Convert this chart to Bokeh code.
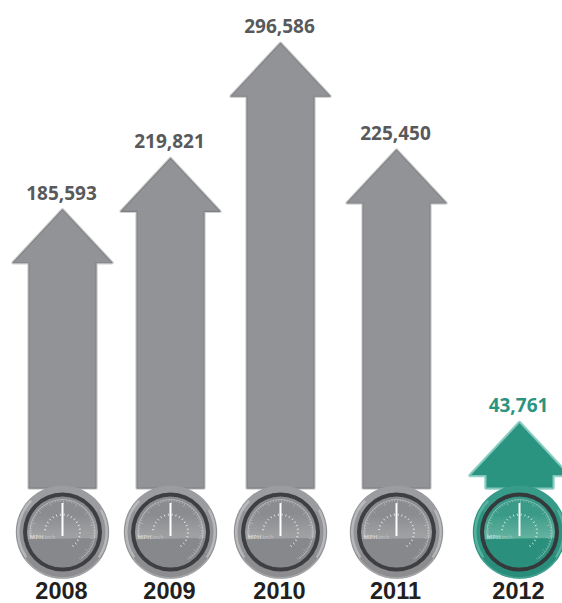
import math
from bokeh.plotting import figure
from bokeh.embed import file_html
from bokeh.resources import INLINE
from bokeh.core.properties import value

years = ["2008", "2009", "2010", "2011", "2012"]
sales = [185593, 219821, 296586, 225450, 43761]
sale_labels = ["185,593", "219,821", "296,586", "225,450", "43,761"]

# page layout, in pixels
W, H = 562, 603
centers = [62, 170, 280, 396, 519]
BASE_PX = 487.6          # pixel row of a zero value
PX_PER_UNIT = 0.0015     # pixels per unit sold
HEAD_H, HEAD_HALF, SHAFT_HALF = 53, 49.5, 33.5
GAUGE_DY = 44
FACE_R = 35.5

GRAY = dict(body="#929396", halo="#cfd0d1", edge="#808184", rim="#929396", rim_hi="#c6c7c9", rim_lo="#808184",
            face_top="#8b8c8f", face_hi="#c9cacb", face_low="#87888b", ring="#3e3f42", text="#58595b")
TEAL = dict(body="#2a9480", halo="#93d2c8", edge="#7cc4b7", rim="#2a9480", rim_hi="#6dbcae", rim_lo="#23806f",
            face_top="#3a9a88", face_hi="#a5d5cb", face_low="#2a8f7c", ring="#35393c", text="#2a9480")


def yv(px):
    """Pixel row to value-axis coordinate."""
    return (BASE_PX - px) / PX_PER_UNIT


p = figure(width=W, height=H, x_range=(0, W), y_range=(yv(H), yv(0)),
           output_backend="svg", toolbar_location=None, min_border=0,
           outline_line_color=None, background_fill_color="white")
p.axis.visible = False
p.grid.visible = False


def arrow(cx, v, c):
    tip = BASE_PX - v * PX_PER_UNIT
    neck = tip + HEAD_H
    xs = [cx - SHAFT_HALF, cx - SHAFT_HALF, cx - HEAD_HALF, cx, cx + HEAD_HALF, cx + SHAFT_HALF, cx + SHAFT_HALF]
    ys = [0, yv(neck), yv(neck), v, yv(neck), yv(neck), 0]
    # pale outer glow under a fine rounded outline
    p.patch(xs, ys, fill_color=None, line_color=c["halo"], line_width=3.4, line_join="round")
    p.patch(xs, ys, fill_color=c["body"], line_color=c["edge"], line_width=1.1, line_join="round")


def circle(cx, cy, r, color):
    p.circle([cx], [yv(cy)], radius=r, radius_units="screen", fill_color=color, line_color=None)


def arc_band(cx, cy, r0, r1, a0, a1, color, alpha=1.0):
    p.annular_wedge([cx], [yv(cy)], inner_radius=r0, outer_radius=r1,
                    inner_radius_units="screen", outer_radius_units="screen",
                    start_angle=math.radians(a0), end_angle=math.radians(a1),
                    fill_color=color, fill_alpha=alpha, line_color=None)


def lower_segment(cx, cy, r, drop, tilt, **kw):
    """Part of a disc below a nearly level line lying `drop` pixels under its centre."""
    half = math.sqrt(max(r * r - drop * drop, 0))
    start = math.atan2(drop, half)
    n = 40
    xs, ys = [], []
    for i in range(n + 1):
        a = start + (math.pi - 2 * start) * i / n
        xs.append(cx + r * math.cos(a))
        ys.append(yv(cy + r * math.sin(a)))
    xs += [cx - half, cx + half]
    ys += [yv(cy + drop + tilt), yv(cy + drop - tilt)]
    p.patch(xs, ys, line_color=None, **kw)


def gauge(cx, c):
    cy = BASE_PX + GAUGE_DY
    # bezel: lit on both flanks, slightly paler at the top
    circle(cx, cy, 46.7, c["rim"])
    arc_band(cx, cy, 39, 46.7, 30, 150, c["rim_hi"], 0.18)
    arc_band(cx, cy, 39, 46.7, 210, 330, c["rim_lo"], 0.3)
    arc_band(cx, cy, 43, 45.5, 135, 215, c["rim_hi"], 0.7)
    arc_band(cx, cy, 43, 45.5, -35, 30, c["rim_hi"], 0.7)
    arc_band(cx, cy, 45, 46.7, 215, 325, c["rim_hi"], 0.4)
    # dial face, brightening towards the horizon
    circle(cx, cy, FACE_R, c["face_top"])
    for step in range(0, 24, 2):
        lower_segment(cx, cy, FACE_R, 5.5 - step, 0.6, fill_color=c["face_hi"], fill_alpha=0.05)
    lower_segment(cx, cy, FACE_R, 6.5, 0.6, fill_color=c["face_low"])
    arc_band(cx, cy, FACE_R, 39.5, 0, 360, c["ring"])
    # outer scale ticks
    tx0, ty0, tx1, ty1 = [], [], [], []
    for i in range(50):
        a = math.radians(188 - i * 5)
        r0 = 28.5 if i % 5 == 0 else 30.5
        tx0.append(cx + r0 * math.cos(a)); ty0.append(yv(cy - r0 * math.sin(a)))
        tx1.append(cx + 32.5 * math.cos(a)); ty1.append(yv(cy - 32.5 * math.sin(a)))
    p.segment(tx0, ty0, tx1, ty1, line_color="white", line_alpha=0.45, line_width=0.6)
    arc_band(cx, cy, 32.2, 32.9, -55, 188, "white", 0.4)
    # inner dotted scale
    dx0, dy0, dx1, dy1 = [], [], [], []
    for i in range(19):
        a = math.radians(172 - i * 12.5)
        dx0.append(cx + 16.5 * math.cos(a)); dy0.append(yv(cy - 16.5 * math.sin(a)))
        dx1.append(cx + 18.5 * math.cos(a)); dy1.append(yv(cy - 18.5 * math.sin(a)))
    p.segment(dx0, dy0, dx1, dy1, line_color="white", line_alpha=0.75, line_width=1)
    # needle
    p.segment([cx], [yv(cy + 4)], [cx], [yv(cy - 29)], line_color="white", line_width=2)
    # dial lettering
    p.text([cx - 33], [yv(cy + 4.5)], text=["MPH"], text_font=value("Open Sans"), text_font_style="bold",
           text_font_size="6px", text_color="white", text_alpha=0.5, text_baseline="middle")
    p.text([cx - 18], [yv(cy + 4.5)], text=["km/h"], text_font=value("Open Sans"),
           text_font_size="4.5px", text_color="white", text_alpha=0.4, text_baseline="middle")


for year, v, lab, cx in zip(years, sales, sale_labels, centers):
    c = TEAL if year == "2012" else GRAY
    arrow(cx, v, c)
    gauge(cx, c)
    tip = BASE_PX - v * PX_PER_UNIT
    p.text([cx - 1], [yv(tip - 17)], text=[lab], text_font=value("Open Sans"), text_font_style="bold",
           text_font_size="19px", text_color=c["text"], text_align="center", text_baseline="middle")
    p.text([cx - 1], [yv(590)], text=[year], text_font=value("Liberation Sans"), text_font_style="bold",
           text_font_size="23.5px", text_color="#231f20", text_align="center", text_baseline="middle")

open("out.html", "w").write(file_html(p, INLINE))
